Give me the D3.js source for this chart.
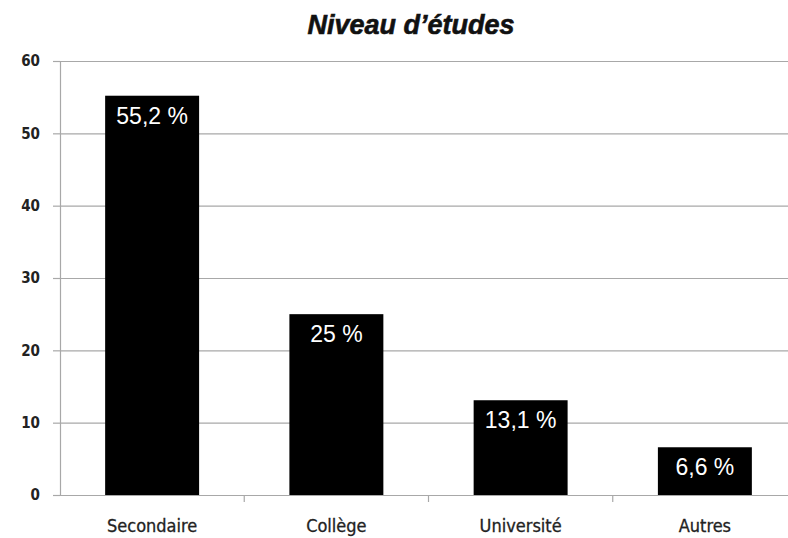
<!DOCTYPE html>
<html>
<head>
<meta charset="utf-8">
<script src="https://cdn.jsdelivr.net/npm/d3@7"></script>
<style>
  body { margin: 0; background: #fff; }
  .svg-container { width: 788px; height: 538px; }
</style>
</head>
<body>
<div class="svg-container"></div>
<script>
// chart data
const categories = ["Secondaire", "Collège", "Université", "Autres"];
const values = [55.2, 25, 13.1, 6.6];
const valueLabels = ["55,2 %", "25 %", "13,1 %", "6,6 %"];
const yTicks = [0, 10, 20, 30, 40, 50, 60];
const title = "Niveau d\u2019études";

const width = 788;
const height = 538;
const margin = { top: 61, right: -9, bottom: 43, left: 60 };
const innerW = width - margin.left - margin.right;
const innerH = height - margin.top - margin.bottom;

const svg = d3.select('.svg-container').append('svg')
    .attr('width', width)
    .attr('height', height);

const chart = svg.append('g')
    .attr('transform', `translate(${margin.left}, ${margin.top})`);

/**
*  Title
*/
svg.append('text')
    .attr('x', 411)
    .attr('y', 34)
    .attr('text-anchor', 'middle')
    .style('font-family', '"Liberation Sans", Arial, sans-serif')
    .style('font-size', '27px')
    .style('font-weight', 'bold')
    .style('font-style', 'italic')
    .style('fill', '#111')
    .style('stroke', '#111')
    .style('stroke-width', 0.6)
    .text(title);

/**
*  Scales
*/
const xScale = d3.scaleBand()
    .range([0, innerW])
    .domain(categories)
    .paddingInner(0.49)
    .paddingOuter(0.245);

const yScale = d3.scaleLinear()
    .range([innerH, 0])
    .domain([0, 60]);

/**
*  Grid lines
*/
chart.append('g')
    .attr('class', 'grid')
    .call(d3.axisLeft(yScale).tickValues(yTicks).tickSize(-innerW).tickFormat(''))
    .call(g => g.select('.domain').remove())
    .call(g => g.selectAll('line').attr('stroke', '#a8a8a8').attr('stroke-width', 1.2));

/**
*  Y axis
*/
chart.append('g')
    .attr('class', 'y-axis')
    .call(d3.axisLeft(yScale).tickValues(yTicks).tickSize(7).tickPadding(13))
    .call(g => g.select('.domain').attr('stroke', '#a8a8a8').attr('stroke-width', 1.2))
    .call(g => g.selectAll('line').attr('stroke', '#a8a8a8').attr('stroke-width', 1.2))
    .call(g => g.selectAll('text')
        .style('font-family', '"DejaVu Sans Condensed", "DejaVu Sans", sans-serif')
        .style('font-size', '15px')
        .style('font-weight', 'bold')
        .style('fill', '#222'));

/**
*  X axis
*/
chart.append('g')
    .attr('class', 'x-axis')
    .attr('transform', `translate(0, ${innerH})`)
    .call(d3.axisBottom(xScale).tickSize(0).tickPadding(24))
    .call(g => g.select('.domain').attr('stroke', '#a8a8a8').attr('stroke-width', 1.2))
    .call(g => g.selectAll('text')
        .style('font-family', '"DejaVu Sans Condensed", "DejaVu Sans", sans-serif')
        .style('font-size', '18px')
        .style('fill', '#222')
        .style('stroke', '#222')
        .style('stroke-width', 0.3));

// tick marks between categories
const gap = (xScale.step() - xScale.bandwidth()) / 2;
chart.append('g')
    .selectAll('line')
    .data(categories.slice(1))
    .enter()
    .append('line')
    .attr('x1', d => xScale(d) - gap)
    .attr('x2', d => xScale(d) - gap)
    .attr('y1', innerH)
    .attr('y2', innerH + 7)
    .attr('stroke', '#a8a8a8')
    .attr('stroke-width', 1.2);

/**
*  Bars
*/
const barGroups = chart.selectAll('.bar')
    .data(categories)
    .enter()
    .append('g')
    .attr('class', 'bar');

barGroups.append('rect')
    .attr('x', d => xScale(d))
    .attr('y', (d, i) => yScale(values[i]))
    .attr('width', xScale.bandwidth())
    .attr('height', (d, i) => innerH - yScale(values[i]))
    .attr('fill', '#000');

barGroups.append('text')
    .attr('x', d => xScale(d) + xScale.bandwidth() / 2)
    .attr('y', (d, i) => yScale(values[i]) + 28)
    .attr('text-anchor', 'middle')
    .style('font-family', '"Liberation Sans", Arial, sans-serif')
    .style('font-size', '23px')
    .style('fill', '#fff')
    .text((d, i) => valueLabels[i]);
</script>
</body>
</html>
